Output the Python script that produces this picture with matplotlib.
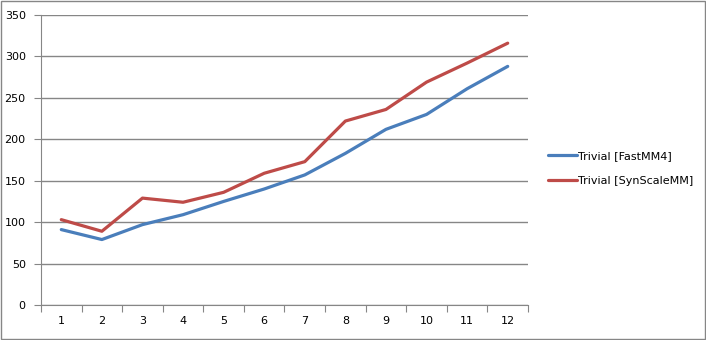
import matplotlib.pyplot as plt
from matplotlib.patches import Rectangle

# data
runs = [1, 2, 3, 4, 5, 6, 7, 8, 9, 10, 11, 12]
fastmm4 = [91, 79, 97, 109, 125, 140, 157, 183, 212, 230, 261, 288]
synscale = [103, 89, 129, 124, 136, 159, 173, 222, 236, 269, 292, 316]
names = ["Trivial [FastMM4]", "Trivial [SynScaleMM]"]
colors = ["#4A7EBB", "#BE4B48"]

fig = plt.figure(figsize=(7.06, 3.40), dpi=100)
ax = fig.add_axes([41/706, 1 - 305/340, (528 - 41)/706, 290/340])

for ys, name, c in zip([fastmm4, synscale], names, colors):
    ax.plot(runs, ys, color=c, linewidth=2.3, label=name, solid_capstyle='round', zorder=3)

ax.set_xlim(0.5, 12.5)
ax.set_ylim(0, 350)
ax.set_yticks(range(0, 351, 50))

# ticks between categories, labels at the centres
ax.set_xticks([i + 0.5 for i in range(0, 13)])
ax.set_xticklabels([])
ax.set_xticks(runs, minor=True)
ax.set_xticklabels([str(r) for r in runs], minor=True)
ax.tick_params(axis='x', which='minor', length=0, pad=8)
ax.tick_params(axis='x', which='major', length=5, color='#868686', direction='out')
ax.tick_params(axis='y', length=5, color='#868686', direction='out', pad=6)
ax.tick_params(which='both', labelsize=8)

ax.grid(True, axis='y', color='#868686', linewidth=1, zorder=0)
for s in ['top', 'right']:
    ax.spines[s].set_visible(False)
for s in ['left', 'bottom']:
    ax.spines[s].set_color('#868686')

ax.legend(loc='center left', bbox_to_anchor=(1.02, 0.47), frameon=False,
          fontsize=8, handlelength=2.6, handletextpad=0.1, labelspacing=1.35)

# outer border
fig.patches.append(Rectangle((0.001, 0.002), 0.997, 0.995, transform=fig.transFigure,
                             fill=False, edgecolor='#868686', linewidth=1))

plt.savefig("out.png", dpi=100)
